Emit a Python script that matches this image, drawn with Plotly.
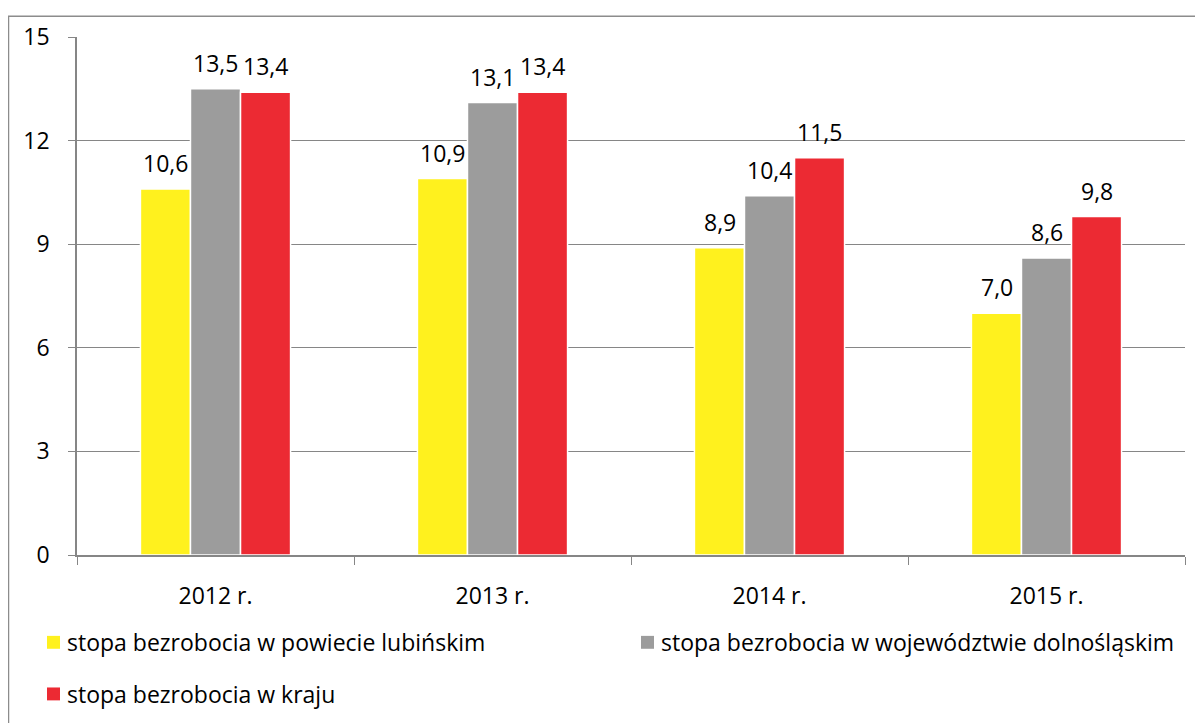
import plotly.graph_objects as go

categories = ["2012 r.", "2013 r.", "2014 r.", "2015 r."]
series_names = [
    "stopa bezrobocia w powiecie lubińskim",
    "stopa bezrobocia w województwie dolnośląskim",
    "stopa bezrobocia w kraju",
]
powiat = [10.6, 10.9, 8.9, 7.0]
wojewodztwo = [13.5, 13.1, 10.4, 8.6]
kraj = [13.4, 13.4, 11.5, 9.8]
colors = ["#FFF11E", "#9C9C9C", "#EC2A33"]
y_ticks = [0, 3, 6, 9, 12, 15]

FONT = "Open Sans"
FS = 23
OFF = 8  # page body margin
W, H = 1195, 715
L, R, T, B = 77, 1185, 33, 555  # plot area in page pixels

fig = go.Figure()
for i, (name, vals) in enumerate(zip(series_names, [powiat, wojewodztwo, kraj])):
    fig.add_trace(go.Bar(
        x=categories, y=vals, name=name,
        marker=dict(color=colors[i], line=dict(color="white", width=1.5)),
        offsetgroup=str(i), showlegend=False,
    ))

# data labels
n = len(series_names)
for i, vals in enumerate([powiat, wojewodztwo, kraj]):
    for j, v in enumerate(vals):
        fig.add_annotation(
            x=categories[j], y=v, xref="x", yref="y",
            text=f"{v:.1f}".replace(".", ","), showarrow=False,
            yanchor="bottom", yshift=8,
            xshift=(i - (n - 1) / 2) * 50,
            font=dict(family=FONT, size=FS, color="#000000"),
        )

def px_x(p):
    return (p - L) / (R - L)

def px_y(p):
    return (B - p) / (B - T)

# custom legend
legend_pos = [(47, 643), (641, 643), (47, 695)]
for (lx, ly), name, c in zip(legend_pos, series_names, colors):
    fig.add_shape(type="rect", xref="paper", yref="paper",
                  x0=px_x(lx), x1=px_x(lx + 13), y0=px_y(ly + 6.5), y1=px_y(ly - 6.5),
                  fillcolor=c, line=dict(width=0))
    fig.add_annotation(xref="paper", yref="paper", x=px_x(lx + 18), y=px_y(ly),
                       text=name, showarrow=False, xanchor="left", yanchor="middle",
                       font=dict(family=FONT, size=FS, color="#000000"))

# outer border
fig.add_shape(type="rect", xref="paper", yref="paper",
              x0=px_x(8.5), x1=px_x(1215), y0=px_y(735), y1=px_y(12),
              line=dict(color="#8C8C8C", width=1.5), fillcolor="rgba(0,0,0,0)")

fig.update_layout(
    width=W, height=H,
    margin=dict(l=L - OFF, r=OFF + W - R, t=T - OFF, b=OFF + H - B),
    paper_bgcolor="white", plot_bgcolor="white",
    barmode="group", bargap=0.458, bargroupgap=0,
    font=dict(family=FONT, size=FS, color="#000000"),
    separators=", ",
)
fig.update_xaxes(
    showline=True, linecolor="#868686", linewidth=1.5,
    ticks="outside", tickson="boundaries", ticklen=8, tickcolor="#868686",
    showgrid=False, ticklabelstandoff=20,
    tickfont=dict(family=FONT, size=FS, color="#000000"),
)
fig.update_yaxes(
    range=[0, 15], tickvals=y_ticks,
    showline=True, linecolor="#868686", linewidth=1.5,
    ticks="outside", ticklen=7, tickcolor="#868686",
    showgrid=True, gridcolor="#868686", gridwidth=1.2,
    zeroline=False, ticklabelstandoff=14,
    tickfont=dict(family=FONT, size=FS, color="#000000"),
)

fig.write_html("out.html")
